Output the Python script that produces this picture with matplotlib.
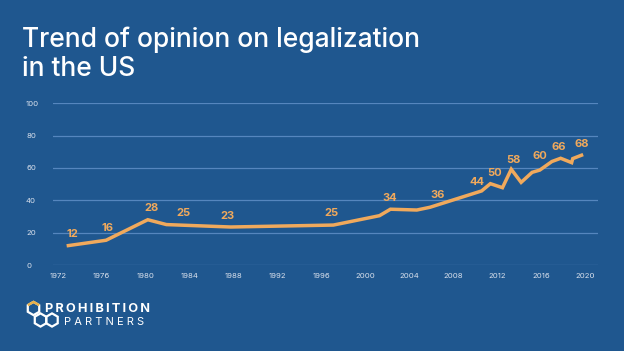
import matplotlib.pyplot as plt
from matplotlib.patches import RegularPolygon
import numpy as np

# series (share who favour legalization, %)
years = [1972.97, 1976.4, 1980.2, 1981.9, 1987.75, 1997.1, 2001.3, 2002.3,
         2004.7, 2005.9, 2010.6, 2011.4, 2012.5, 2013.3, 2014.2, 2015.2,
         2015.9, 2017.0, 2017.8, 2018.8, 2018.9, 2019.7]
support = [12, 15.3, 28, 25, 23.5, 24.7, 30.5, 34.5,
           34, 35.7, 45.8, 50.3, 47.8, 59.2, 51.1, 57.3,
           58.7, 64, 66, 63.3, 65.8, 67.9]

# labelled values and where they sit
label_years = [1973.37, 1976.56, 1980.52, 1983.44, 1987.44, 1996.97, 2002.25,
               2006.62, 2010.15, 2011.75, 2013.51, 2015.91, 2017.67, 2019.76]
label_values = [12, 16, 28, 25, 23, 25, 34, 36, 44, 50, 58, 60, 66, 68]

xticks = list(range(1972, 2021, 4))
yticks = [0, 20, 40, 60, 80, 100]

BG = '#1F578F'
ORANGE = '#F0A95C'
GRID = '#5586BE'
TICK = '#D8E0EC'

plt.rcParams['font.family'] = ['Inter', 'DejaVu Sans']

W, H = 624, 351
fig = plt.figure(figsize=(W / 100, H / 100), dpi=100, facecolor=BG)

# title
fig.text(22 / W, 1 - 46.7 / H, 'Trend of opinion on legalization', color='white',
         fontsize=19, fontweight='medium', va='baseline', ha='left')
fig.text(22 / W, 1 - 76 / H, 'in the US', color='white',
         fontsize=19, fontweight='medium', va='baseline', ha='left')

# chart area
ax = fig.add_axes((53 / W, (H - 265) / H, (598 - 53) / W, (265 - 103.3) / H))
ax.set_facecolor(BG)
ax.set_xlim(1971.57, 2021.2)
ax.set_ylim(0, 100)
for s in ax.spines.values():
    s.set_visible(False)

for v in yticks:
    ax.axhline(v, color=GRID, lw=0.9, zorder=1)

ax.plot(years, support, color=ORANGE, lw=2.5, solid_joinstyle='miter', zorder=3)

for yr, v in zip(label_years, label_values):
    ax.annotate(str(v), (yr, v), xytext=(0, 8.3), textcoords='offset points',
                ha='center', va='center', color=ORANGE, fontsize=8,
                fontweight='bold', zorder=4)

ax.set_xticks(xticks)
ax.set_yticks(yticks)
ax.tick_params(axis='both', length=0, colors=TICK, labelsize=5.6)
ax.tick_params(axis='x', pad=6)
ax.tick_params(axis='y', pad=19.4)
for lab in ax.get_yticklabels():
    lab.set_horizontalalignment('left')

# logo
lax = fig.add_axes((0, 0, 1, 1), facecolor='none')
lax.set_xlim(0, W)
lax.set_ylim(H, 0)
lax.axis('off')
r = 6.6
for cx, cy in [(33.5, 308.5), (40.5, 320), (52, 320)]:
    lax.add_patch(RegularPolygon((cx, cy), 6, radius=r, orientation=0,
                                 fill=False, ec='white', lw=1.6))
# gold cap on upper hexagon
ang = np.radians([150, 90, 30])
lax.plot(33.5 + r * np.cos(ang), 308.5 - r * np.sin(ang), color='#E8B04A', lw=1.8,
         solid_capstyle='butt')
lax.text(45, 312.3, '\u2006'.join('PROHIBITION'), color='white', fontsize=9.2,
         fontweight='bold', va='baseline', ha='left')
lax.text(64.5, 325, 'P A R T N E R S', color='white', fontsize=8,
         va='baseline', ha='left')

fig.savefig('out.png', dpi=100, facecolor=BG)
